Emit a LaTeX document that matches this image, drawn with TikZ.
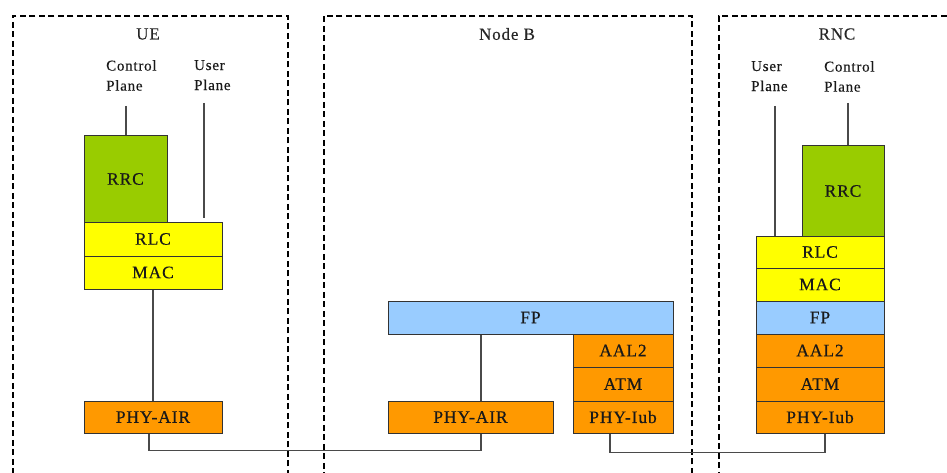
\documentclass[tikz,border=0pt]{standalone}
\usepackage{fontspec}
\setmainfont{Liberation Serif}
\definecolor{rrcgreen}{HTML}{99CC00}
\definecolor{layyellow}{HTML}{FFFF00}
\definecolor{layorange}{HTML}{FF9900}
\definecolor{layblue}{HTML}{99CCFF}
\definecolor{edgegray}{HTML}{333333}
\definecolor{wiregray}{HTML}{4A4A4A}
\tikzset{
  layer/.style={draw=edgegray, line width=1pt, inner sep=0pt, font=\fontsize{17.5}{20}\selectfont\addfontfeatures{LetterSpace=5,FakeBold=0.4}, text=black!90},
  zone/.style={draw=black, line width=1.7pt, dash pattern=on 6pt off 3.5pt, inner sep=0pt, anchor=north west},
  title/.style={font=\fontsize{17}{20}\selectfont\addfontfeatures{LetterSpace=5,FakeBold=0.3}, text=black!85, inner sep=0pt},
  plane/.style={font=\fontsize{15}{20}\selectfont\addfontfeatures{LetterSpace=5,FakeBold=0.3}, text=black!90, align=left, anchor=north west, inner sep=0pt},
  wire/.style={draw=wiregray, line width=1.3pt},
}
\begin{document}
\begin{tikzpicture}[x=1pt,y=-1pt]
\useasboundingbox (0,0) rectangle (947,473);
\fill[white] (0,0) rectangle (947,473);
\begin{scope}
\clip (0,0) rectangle (947,473);
\node[zone, minimum width=275pt, minimum height=470pt] (uezone) at (12,15) {};
\node[zone, minimum width=368pt, minimum height=470pt] (nbzone) at (323,15) {};
\node[zone, minimum width=240pt, minimum height=470pt] (rnczone) at (718,15) {};
\end{scope}

% titles
\node[title] (uetitle) at (148,34) {UE};
\node[title] (nbtitle) at (507,34) {Node B};
\node[title] (rnctitle) at (837,34) {RNC};

% plane labels
\node[plane] (uecplab) at (106,60) {Control\\Plane};
\node[plane] (ueuplab) at (194,60) {User\\Plane};
\node[plane] (rncuplab) at (751,61) {User\\Plane};
\node[plane] (rnccplab) at (824,61) {Control\\Plane};

% UE stack
\node[layer, fill=rrcgreen, minimum width=83pt, minimum height=86pt] (uerrc) at (125.5,179) {RRC};
\node[layer, fill=layyellow, minimum width=138pt, minimum height=34pt] (uerlc) at (153,239) {RLC};
\node[layer, fill=layyellow, minimum width=138pt, minimum height=33pt] (uemac) at (153,272.5) {MAC};
\node[layer, fill=layorange, minimum width=138pt, minimum height=32pt] (uephy) at (153,417) {PHY-AIR};

% Node B
\node[layer, fill=layblue, minimum width=285pt, minimum height=33pt] (nbfp) at (530.5,317.5) {FP};
\node[layer, fill=layorange, minimum width=165pt, minimum height=32pt] (nbphy) at (470.5,417) {PHY-AIR};
\node[layer, fill=layorange, minimum width=100pt, minimum height=33pt] (nbaal) at (623,350.5) {AAL2};
\node[layer, fill=layorange, minimum width=100pt, minimum height=34pt] (nbatm) at (623,384) {ATM};
\node[layer, fill=layorange, minimum width=100pt, minimum height=32pt] (nbiub) at (623,417) {PHY-Iub};

% RNC stack
\node[layer, fill=rrcgreen, minimum width=82pt, minimum height=90pt] (rrrc) at (843,191) {RRC};
\node[layer, fill=layyellow, minimum width=128pt, minimum height=32pt] (rrlc) at (820,252) {RLC};
\node[layer, fill=layyellow, minimum width=128pt, minimum height=33pt] (rmac) at (820,284.5) {MAC};
\node[layer, fill=layblue, minimum width=128pt, minimum height=33pt] (rfp) at (820,317.5) {FP};
\node[layer, fill=layorange, minimum width=128pt, minimum height=33pt] (raal) at (820,350.5) {AAL2};
\node[layer, fill=layorange, minimum width=128pt, minimum height=34pt] (ratm) at (820,384) {ATM};
\node[layer, fill=layorange, minimum width=128pt, minimum height=32pt] (riub) at (820,417) {PHY-Iub};

% plane line free ends
\coordinate (uecp) at (126,106);
\coordinate (ueup) at (204,103);
\coordinate (rncup) at (775,106);
\coordinate (rnccp) at (848,103);

% connectors
\draw[wire] (uecp) -- (uecp |- uerrc.north);
\draw[wire, shorten >=4pt] (ueup) -- (ueup |- uerlc.north);
\draw[wire] (rncup) -- (rncup |- rrlc.north);
\draw[wire] (rnccp) -- (rnccp |- rrrc.north);
\draw[wire] (uemac.south) -- (uephy.north);
\draw[wire] ([xshift=10.5pt]nbphy.north) -- ([xshift=10.5pt]nbphy.north |- nbfp.south);
\draw[wire] ([xshift=-4pt]uephy.south) -- ++(0,17) -| ([xshift=10.5pt]nbphy.south);
\draw[wire] ([xshift=-13pt]nbiub.south) -- ++(0,19) -| ([xshift=5pt]riub.south);
\end{tikzpicture}
\end{document}
